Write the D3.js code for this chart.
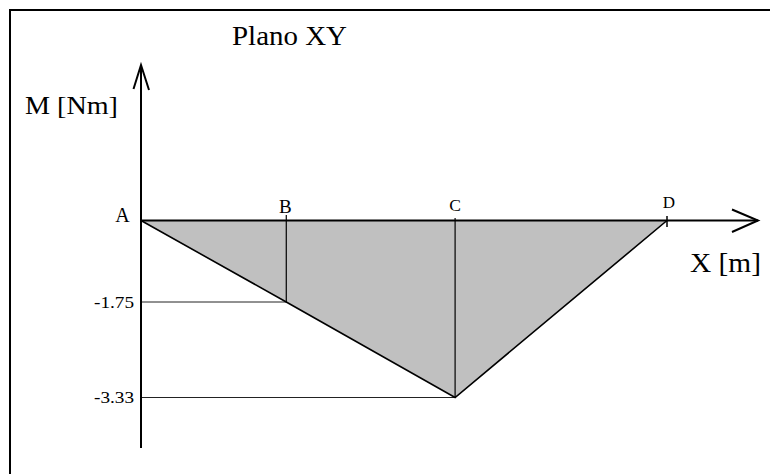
<!DOCTYPE html>
<html>
<head>
<meta charset="utf-8">
<script src="https://cdn.jsdelivr.net/npm/d3@7"></script>
<style>
  html, body { margin: 0; padding: 0; background: #fff; overflow: hidden; }
  text { font-family: "Liberation Serif", "Times New Roman", serif; fill: #000; }
</style>
</head>
<body>
<script>
var width = 770;
var height = 474;

// datos: puntos de la viga, posicion [m] y momento [Nm]
var puntos = ["A", "B", "C", "D"];
var posX = [0, 0.29, 0.627, 1.05];
var momento = [0, -1.75, -3.33, 0];
var ticksM = [-1.75, -3.33];

var svg = d3.select("body")
  .append("svg")
  .attr("width", width)
  .attr("height", height);

// marco
svg.append("rect")
  .attr("x", 10).attr("y", 10)
  .attr("width", 800).attr("height", 500)
  .attr("fill", "none")
  .attr("stroke", "#000")
  .attr("stroke-width", 2);

// escalas (el dibujo original no esta a escala en M, por eso es por tramos)
var x = d3.scaleLinear().domain([0, 1.05]).range([141, 667]);
var y = d3.scaleLinear().domain([0, -1.75, -3.33]).range([220.5, 302, 397.5]);

var x0 = x(0);
var y0 = y(0);

// area del diagrama
var area = d3.area()
  .x(function (d, i) { return x(posX[i]); })
  .y0(y0)
  .y1(function (d, i) { return y(momento[i]); });

svg.append("path")
  .datum(puntos)
  .attr("d", area)
  .attr("fill", "#c0c0c0")
  .attr("stroke", "none");

// lineas guia horizontales
ticksM.forEach(function (m) {
  var i = momento.indexOf(m);
  svg.append("line")
    .attr("x1", x0).attr("x2", x(posX[i]))
    .attr("y1", y(m)).attr("y2", y(m))
    .attr("stroke", "#222")
    .attr("stroke-width", 1);
  svg.append("text")
    .attr("x", 134).attr("y", y(m) + 5.5)
    .attr("text-anchor", "end")
    .attr("font-size", 16.5)
    .attr("textLength", 40)
    .attr("lengthAdjust", "spacingAndGlyphs")
    .text(m.toFixed(2));
});

// verticales en B y C
svg.append("line")
  .attr("x1", x(posX[1])).attr("x2", x(posX[1]))
  .attr("y1", 215).attr("y2", y(momento[1]))
  .attr("stroke", "#000").attr("stroke-width", 1.2);
svg.append("line")
  .attr("x1", x(posX[2])).attr("x2", x(posX[2]))
  .attr("y1", 218).attr("y2", y(momento[2]))
  .attr("stroke", "#000").attr("stroke-width", 1.2);
// marca en D
svg.append("line")
  .attr("x1", x(posX[3])).attr("x2", x(posX[3]))
  .attr("y1", 216).attr("y2", 227)
  .attr("stroke", "#000").attr("stroke-width", 1.5);

// linea del momento
var linea = d3.line()
  .x(function (d, i) { return x(posX[i]); })
  .y(function (d, i) { return y(momento[i]); });

svg.append("path")
  .datum(puntos)
  .attr("d", linea)
  .attr("fill", "none")
  .attr("stroke", "#000")
  .attr("stroke-width", 1.6);

// eje X con flecha
svg.append("line")
  .attr("x1", x0).attr("x2", 758)
  .attr("y1", y0).attr("y2", y0)
  .attr("stroke", "#000").attr("stroke-width", 2);
svg.append("path")
  .attr("d", "M732,209.5 L758," + y0 + " L732,232")
  .attr("fill", "none").attr("stroke", "#000").attr("stroke-width", 2);

// eje M con flecha
svg.append("line")
  .attr("x1", x0).attr("x2", x0)
  .attr("y1", 65).attr("y2", 448)
  .attr("stroke", "#000").attr("stroke-width", 2);
svg.append("path")
  .attr("d", "M133.5,89 L" + x0 + ",65 L149,90")
  .attr("fill", "none").attr("stroke", "#000").attr("stroke-width", 2);

// etiquetas de puntos
var etiq = [
  { dx: -18.5, dy: 222, fs: 20 },
  { dx: -1, dy: 213, fs: 19 },
  { dx: 0, dy: 211, fs: 17.5 },
  { dx: 2, dy: 208, fs: 17 }
];
puntos.forEach(function (p, i) {
  svg.append("text")
    .attr("x", x(posX[i]) + etiq[i].dx)
    .attr("y", etiq[i].dy)
    .attr("text-anchor", "middle")
    .attr("font-size", etiq[i].fs)
    .text(p);
});

// titulos
svg.append("text")
  .attr("x", 232).attr("y", 45)
  .attr("font-size", 27)
  .attr("textLength", 115)
  .attr("lengthAdjust", "spacingAndGlyphs")
  .text("Plano XY");

svg.append("text")
  .attr("x", 25).attr("y", 114)
  .attr("font-size", 25)
  .attr("textLength", 93)
  .attr("lengthAdjust", "spacingAndGlyphs")
  .text("M [Nm]");

svg.append("text")
  .attr("x", 690).attr("y", 272)
  .attr("font-size", 27)
  .attr("textLength", 71)
  .attr("lengthAdjust", "spacingAndGlyphs")
  .text("X [m]");
</script>
</body>
</html>
